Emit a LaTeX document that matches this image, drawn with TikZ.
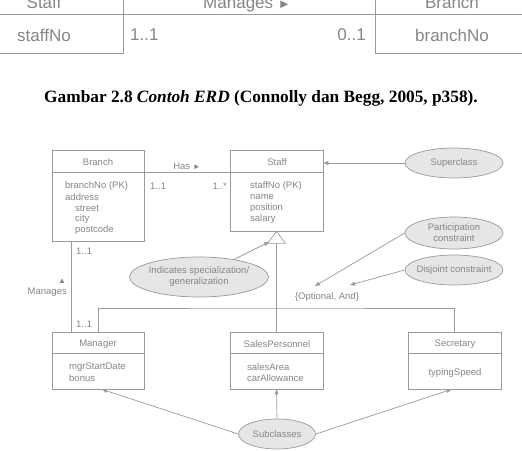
\documentclass[tikz,border=0pt]{standalone}
\usepackage{fontspec}
\setmainfont{Liberation Serif}
\setsansfont{Liberation Sans}
\usetikzlibrary{shapes.geometric, arrows.meta}
\usetikzlibrary{positioning}

\definecolor{lngray}{HTML}{9A9A9A}
\definecolor{txgray}{HTML}{868686}
\definecolor{elfill}{HTML}{E6E6E6}

\tikzset{
  ln/.style={draw=lngray, line width=0.7pt},
  cls/.style={ln, inner sep=0pt},
  arr/.style={ln, -{Triangle[length=5pt,width=4pt]}},
  lbl/.style={font=\sffamily\fontsize{9.5}{11}\selectfont, text=txgray, inner sep=0pt},
  attr/.style={lbl, anchor=west},
  note/.style={ellipse, ln, fill=elfill, inner sep=0pt},
  otxt/.style={font=\sffamily\fontsize{17}{20}\selectfont, text=txgray, inner sep=0pt},
}

\begin{document}
\begin{tikzpicture}[x=1pt, y=-1pt]
\clip (0,0) rectangle (522,450);
\fill[white] (0,0) rectangle (522,450);

% previous figure, cut at the top
\node[cls, line width=0.8pt, minimum width=163pt, minimum height=103pt] (oStaff) at (41.5,1.5) {};
\node[cls, line width=0.8pt, minimum width=185pt, minimum height=103pt] (oBranch) at (467.5,1.5) {};
\coordinate (oSep) at (0,14);
\draw[ln, line width=0.8pt] (oStaff.west |- oSep) -- (oBranch.east |- oSep);
\node[otxt, anchor=base] (oStaffH) at (44,8) {Staff};
\node[otxt, anchor=base] (oMan) at (247,8) {Manages {\fontsize{13}{14}\selectfont ►}};
\node[otxt, anchor=base] (oBranchH) at (452,8) {Branch};
\node[otxt] (oStaffN) at (44,35) {staffNo};
\node[otxt, anchor=west] (oLeft) at (130,35) {1..1};
\node[otxt, anchor=east] (oRight) at (366,35) {0..1};
\node[otxt] (oBranchN) at (452,35) {branchNo};

% caption
\node[font=\bfseries\fontsize{17.3}{20}\selectfont, inner sep=0pt] (cap) at (261,98)
  {Gambar 2.8 \textit{Contoh ERD} (Connolly dan Begg, 2005, p358).};

% classes
\node[cls, minimum width=92pt, minimum height=91pt] (branch) at (98,195.5) {};
\node[cls, minimum width=93pt, minimum height=81pt] (staff) at (276.5,190.5) {};
\node[cls, minimum width=92pt, minimum height=57pt] (mgr) at (98,360.5) {};
\node[cls, minimum width=93pt, minimum height=57pt] (sales) at (276.5,360.5) {};
\node[cls, minimum width=93pt, minimum height=57pt] (sec) at (454.5,360.5) {};

\foreach \b in {branch,staff}
  \draw[ln] ([yshift=-23pt]\b.north west) -- ([yshift=-23pt]\b.north east);
\foreach \b in {mgr,sales,sec}
  \draw[ln] ([yshift=-22pt]\b.north west) -- ([yshift=-22pt]\b.north east);

\node[lbl] (branchH) at (98,162) {Branch};
\node[lbl] (staffH) at (277,162) {Staff};
\node[lbl] (mgrH) at (98,344) {Manager};
\node[lbl] (salesH) at (277,344) {SalesPersonnel};
\node[lbl] (secH) at (455,344) {Secretary};

\foreach \x/\y/\t [count=\i] in {
  65/186/branchNo (PK),
  65/197/address,
  75/208/street,
  75/219/city,
  75/230/postcode
}
  \node[attr] (branchA\i) at (\x,\y) {\t};

\foreach \y/\t [count=\i] in {
  186/staffNo (PK),
  197/name,
  208/position,
  219/salary
}
  \node[attr] (staffA\i) at (250,\y) {\t};

\node[attr] (mgrA1) at (69,367) {mgrStartDate};
\node[attr] (mgrA2) at (69,378) {bonus};
\node[attr] (salesA1) at (247,367) {salesArea};
\node[attr] (salesA2) at (247,378) {carAllowance};
\node[lbl] (secA1) at (455,373) {typingSpeed};

% Has
\draw[ln] ([yshift=-23pt]branch.north east) -- ([yshift=-23pt]staff.north west);
\node[lbl] (has) at (187,166) {Has {\fontsize{8}{9}\selectfont ►}};
\node[lbl, anchor=west] (hasL) at (150,186) {1..1};
\node[lbl, anchor=east] (hasR) at (227,186) {1..*};

% Manages
\draw[ln] ([xshift=-27pt]branch.south) -- ([xshift=-27pt]mgr.north);
\node[lbl, anchor=west] (manT) at (76,251) {1..1};
\node[lbl, anchor=west] (manB) at (76,324) {1..1};
\node[lbl, anchor=east] (man) at (67,292) {Manages};
\node[lbl, font=\sffamily\fontsize{8}{9}\selectfont] (manArr) at (62,281) {▲};

% generalization
\draw[ln, fill=white] (staff.south) -- ++(9,12) -- ++(-18,0) -- cycle;
\coordinate (triBase) at ([yshift=-12pt]staff.south);
\coordinate (triL) at (269,242);
\coordinate (genBar) at (277,308);
\draw[ln] (triBase) -- (sales.north);
\draw[ln] (mgr.north) |- (genBar) -| (sec.north);
\node[lbl] (opt) at (327,297) {\{Optional, And\}};

% notes
\node[note, minimum width=98pt, minimum height=30pt,
  label={[lbl]center:Superclass}] (sup) at (454,163) {};
\node[note, minimum width=98pt, minimum height=32pt,
  label={[lbl, align=center]center:Participation\\constraint}] (part) at (454,233) {};
\node[note, minimum width=98pt, minimum height=30pt,
  label={[lbl]center:Disjoint constraint}] (disj) at (454,270) {};
\node[note, minimum width=139pt, minimum height=40pt,
  label={[lbl, align=center]center:Indicates specialization/\\generalization}] (spec) at (199,277) {};
\node[note, minimum width=77pt, minimum height=30pt,
  label={[lbl]center:Subclasses}] (subc) at (277,434) {};

\coordinate (optP) at (315,286);
\coordinate (optD) at (350,285);
\draw[arr] (sup.west) -- (sup.west -| staff.east);
\draw[arr] (part.west) -- (optP);
\draw[arr] (disj.west) -- (optD);
\draw[arr] (spec) -- (triL);
\draw[arr] (subc.west) -- ([xshift=4pt]mgr.south);
\draw[arr] (subc.north) -- (sales.south);
\draw[arr] (subc.east) -- ([xshift=-3pt]sec.south);

\end{tikzpicture}
\end{document}
